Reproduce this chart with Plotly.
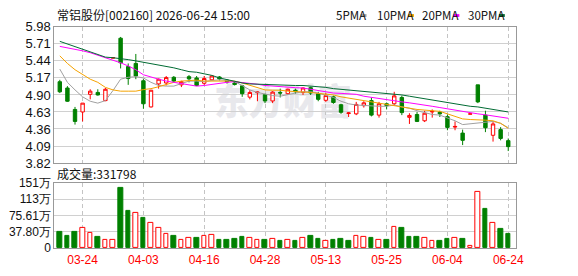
import base64
import plotly.graph_objects as go

# ---------------- data ----------------
opens = [5.11, 5.01, 4.67, 4.63, 4.91, 4.94, 4.81, 5.485, 5.80, 5.35,
         5.40, 5.125, 4.71, 5.075, 5.09, 5.18, 5.06, 5.19, 5.17, 5.085,
         5.14, 5.185, 5.135, 5.09, 5.045, 4.865, 4.935, 4.905, 4.805, 4.94,
         4.92, 4.975, 4.94, 5.015, 4.92, 4.815, 4.87, 4.745, 4.605, 4.60,
         4.73, 4.81, 4.58, 4.76, 4.76, 4.86, 4.545, 4.59, 4.49, 4.63,
         4.625, 4.555, 4.39, 4.295, 4.595, 5.06, 4.58, 4.26, 4.35, 4.175]
highs = [5.14, 5.04, 4.71, 4.77, 4.99, 4.99, 5.01, 5.49, 5.82, 5.40,
         5.55, 5.15, 4.98, 5.16, 5.20, 5.20, 5.125, 5.215, 5.20, 5.20,
         5.21, 5.20, 5.15, 5.11, 5.06, 4.975, 4.955, 4.92, 4.96, 5.00,
         5.00, 5.00, 5.02, 5.03, 4.95, 4.93, 4.89, 4.76, 4.625, 4.79,
         4.80, 4.86, 4.79, 4.78, 4.95, 4.89, 4.61, 4.63, 4.65, 4.67,
         4.65, 4.59, 4.48, 4.35, 4.60, 5.06, 4.65, 4.47, 4.39, 4.21]
lows = [4.93, 4.79, 4.43, 4.48, 4.83, 4.89, 4.80, 5.485, 5.32, 5.06,
        5.15, 4.68, 4.70, 5.00, 5.05, 5.10, 5.025, 5.10, 5.04, 5.06,
        5.13, 5.13, 5.08, 5.05, 4.87, 4.83, 4.80, 4.77, 4.77, 4.86,
        4.90, 4.92, 4.90, 4.90, 4.80, 4.79, 4.76, 4.60, 4.55, 4.58,
        4.70, 4.56, 4.54, 4.67, 4.73, 4.58, 4.44, 4.47, 4.47, 4.54,
        4.55, 4.34, 4.34, 4.105, 4.595, 4.77, 4.31, 4.16, 4.18, 4.01]
closes = [4.95, 4.80, 4.48, 4.77, 4.96, 4.90, 4.99, 5.49, 5.41, 5.16,
          5.20, 4.76, 4.975, 5.15, 5.175, 5.12, 5.11, 5.155, 5.05, 5.16,
          5.20, 5.155, 5.105, 5.065, 4.92, 4.94, 4.945, 4.805, 4.945, 4.93,
          4.99, 4.95, 5.01, 4.93, 4.83, 4.89, 4.78, 4.625, 4.615, 4.75,
          4.775, 4.58, 4.76, 4.73, 4.885, 4.62, 4.575, 4.48, 4.61, 4.64,
          4.60, 4.385, 4.40, 4.18, 4.60, 4.79, 4.38, 4.44, 4.21, 4.08]
volumes = [37.9, 29.1, 37.9, 45.9, 35.0, 27.0, 19.7, 19.7, 140.5, 87.4,
           80.8, 70.6, 59.0, 45.9, 32.8, 29.1, 19.7, 24.0, 24.0, 27.7,
           30.6, 19.7, 19.7, 21.9, 25.5, 23.3, 19.7, 19.7, 21.1, 16.0,
           19.7, 17.5, 23.3, 28.4, 21.9, 16.8, 19.7, 21.9, 16.0, 27.7,
           25.5, 23.3, 19.7, 18.2, 50.3, 45.9, 27.0, 27.0, 24.0, 17.5,
           16.8, 21.9, 24.0, 21.9, 4.4, 131.1, 90.3, 59.0, 43.7, 33.18]
vol_up = [0, 0, 0, 1, 1, 0, 1, 1, 0, 0,
          1, 0, 1, 1, 1, 0, 1, 1, 0, 1,
          1, 0, 0, 0, 0, 1, 1, 0, 1, 0,
          1, 0, 1, 0, 0, 1, 0, 0, 0, 1,
          1, 0, 1, 0, 1, 0, 0, 0, 1, 1,
          0, 0, 1, 0, 1, 1, 0, 1, 0, 0]
ma5 = [5.31, 5.10, 4.98, 4.87, 4.80, 4.77, 4.81, 4.97, 5.15, 5.18,
       5.19, 5.17, 5.10, 5.05, 5.04, 5.04, 5.08, 5.12, 5.12, 5.11,
       5.13, 5.14, 5.13, 5.11, 5.05, 4.98, 4.94, 4.91, 4.89, 4.88,
       4.91, 4.93, 4.95, 4.95, 4.93, 4.90, 4.86, 4.80, 4.76, 4.74,
       4.73, 4.72, 4.72, 4.72, 4.74, 4.71, 4.69, 4.65, 4.62, 4.59,
       4.58, 4.54, 4.49, 4.43, 4.44, 4.46, 4.465, 4.48, 4.45, 4.38]
ma10 = [5.52, 5.40, 5.30, 5.22, 5.15, 5.10, 5.02, 4.98, 4.96, 4.96,
        4.96, 4.985, 5.00, 5.03, 5.07, 5.10, 5.12, 5.13, 5.135, 5.12,
        5.12, 5.125, 5.125, 5.12, 5.09, 5.05, 5.01, 4.98, 4.975, 4.975,
        4.96, 4.955, 4.95, 4.94, 4.925, 4.91, 4.90, 4.87, 4.85, 4.82,
        4.80, 4.79, 4.76, 4.74, 4.73, 4.71, 4.69, 4.67, 4.66, 4.65,
        4.64, 4.60, 4.56, 4.52, 4.51, 4.51, 4.50, 4.49, 4.45, 4.37]
ma20 = [5.67, 5.65, 5.63, 5.60, 5.57, 5.53, 5.50, 5.46, 5.41, 5.36,
        5.30, 5.22, 5.18, 5.15, 5.12, 5.10, 5.075, 5.05, 5.04, 5.05,
        5.07, 5.09, 5.10, 5.11, 5.10, 5.09, 5.07, 5.05, 5.04, 5.025,
        5.02, 5.015, 5.01, 4.99, 4.96, 4.95, 4.93, 4.925, 4.92, 4.91,
        4.88, 4.86, 4.85, 4.83, 4.81, 4.79, 4.775, 4.76, 4.74, 4.72,
        4.70, 4.68, 4.66, 4.63, 4.61, 4.60, 4.585, 4.57, 4.55, 4.53]
ma30 = [5.75, 5.71, 5.67, 5.62, 5.58, 5.54, 5.50, 5.49, 5.48, 5.46,
        5.44, 5.42, 5.40, 5.37, 5.35, 5.33, 5.30, 5.27, 5.26, 5.24,
        5.21, 5.17, 5.14, 5.11, 5.09, 5.075, 5.07, 5.06, 5.055, 5.05,
        5.05, 5.05, 5.05, 5.04, 5.035, 5.02, 5.00, 4.99, 4.975, 4.96,
        4.955, 4.95, 4.94, 4.925, 4.91, 4.90, 4.88, 4.86, 4.84, 4.81,
        4.80, 4.78, 4.76, 4.73, 4.72, 4.71, 4.69, 4.67, 4.65, 4.63]

date_tick_pos = [3, 11, 19, 27, 35, 43, 51, 59]
date_tick_text = ["03-24", "04-03", "04-16", "04-28", "05-13", "05-25", "06-04", "06-24"]
price_ticks = [5.98, 5.71, 5.44, 5.17, 4.90, 4.63, 4.36, 4.09, 3.82]
vol_ticks = [0, 37.80, 75.61, 113.41, 151.22]
vol_tick_text = ["0", "37.80万", "75.61万", "113万", "151万"]
ma_names = ["5PMA", "10PMA", "20PMA", "30PMA"]
title_text = "常铝股份[002160] 2026-06-24 15:00"
vol_title = "成交量:331798"

# ---------------- styling ----------------
W, H = 578, 276
RED, GREEN = "#ff0000", "#008000"
MA_COLORS = ["#a0a0a0", "#f5a300", "#ff00ff", "#006b33"]
FRAME = "#999999"
GRID = "#d0d0d0"


def px_x(x):
    return x / W


def px_y(y):
    return 1 - y / H


idx = list(range(len(closes)))

fig = go.Figure()

# watermark below traces
svg = ('<svg xmlns="http://www.w3.org/2000/svg" width="180" height="50">'
       '<text x="2" y="40" font-family="Noto Sans CJK SC" font-weight="900" '
       'font-size="38" fill="#e8e8ec">东方财富</text></svg>')
src = "data:image/svg+xml;base64," + base64.b64encode(svg.encode("utf-8")).decode()
fig.add_layout_image(dict(source=src, xref="paper", yref="paper",
                          x=px_x(215), y=px_y(74), sizex=px_x(165), sizey=50 / H,
                          xanchor="left", yanchor="top", sizing="stretch",
                          layer="below", opacity=1))

fig.add_trace(go.Candlestick(
    x=idx, open=opens, high=highs, low=lows, close=closes,
    xaxis="x", yaxis="y", whiskerwidth=0,
    increasing=dict(line=dict(color=RED, width=1), fillcolor="#ffffff"),
    decreasing=dict(line=dict(color=GREEN, width=1), fillcolor=GREEN),
    hoverinfo="skip", showlegend=False))

for vals, col in zip([ma5, ma10, ma20, ma30], MA_COLORS):
    fig.add_trace(go.Scatter(x=idx, y=vals, mode="lines", xaxis="x", yaxis="y",
                             line=dict(color=col, width=1), hoverinfo="skip",
                             showlegend=False))

fig.add_trace(go.Bar(
    x=idx, y=volumes, xaxis="x2", yaxis="y2", width=0.62,
    marker=dict(color=["#ffffff" if u else GREEN for u in vol_up],
                line=dict(color=[RED if u else GREEN for u in vol_up], width=1)),
    hoverinfo="skip", showlegend=False))

xdom = [px_x(55), px_x(522.7)]
xcommon = dict(domain=xdom, range=[-0.72, 60.07], tickmode="array",
               tickvals=date_tick_pos, ticktext=date_tick_text,
               showgrid=True, gridcolor="#c4c4c4", griddash="4px,3px", gridwidth=1,
               showline=True, mirror=True, linecolor=FRAME, linewidth=1,
               zeroline=False, ticks="", fixedrange=True)
fig.update_layout(
    width=W, height=H, margin=dict(l=0, r=0, t=0, b=0),
    paper_bgcolor="#ffffff", plot_bgcolor="rgba(0,0,0,0)",
    showlegend=False, bargap=0, boxgap=0.36,
    xaxis=dict(**xcommon, anchor="y", showticklabels=False,
               rangeslider=dict(visible=False)),
    xaxis2=dict(**xcommon, anchor="y2", matches="x", showticklabels=True,
                tickfont=dict(family="Arial", size=12, color=RED)),
    yaxis=dict(domain=[px_y(165), px_y(21)], range=[3.82, 5.98], anchor="x",
               tickmode="array", tickvals=price_ticks,
               ticktext=["%.2f" % v for v in price_ticks],
               tickfont=dict(family="Arial", size=13, color="#111111"),
               showgrid=True, gridcolor=GRID, gridwidth=1,
               showline=True, mirror=True, linecolor=FRAME, linewidth=1,
               zeroline=False, ticks="", fixedrange=True),
    yaxis2=dict(domain=[px_y(255), px_y(186)], range=[0, 151.22], anchor="x2",
                tickmode="array", tickvals=vol_ticks, ticktext=vol_tick_text,
                tickfont=dict(family="Arial", size=12, color="#111111"),
                showgrid=True, gridcolor=GRID, gridwidth=1,
                showline=True, mirror=True, linecolor=FRAME, linewidth=1,
                zeroline=False, ticks="", fixedrange=True),
)

anns = [
    dict(text=title_text, x=px_x(56), y=px_y(8), xanchor="left", yanchor="middle",
         font=dict(family="Noto Sans CJK SC", size=12, color="#111111")),
    dict(text=vol_title, x=px_x(56), y=px_y(176.5), xanchor="left", yanchor="middle",
         font=dict(family="Noto Sans CJK SC", size=12, color="#111111")),
]
legend_x = [338, 380, 425, 471.5]
swatch_x = [365, 413, 459, 505]
shapes = []
for name, lx, sx, col in zip(ma_names, legend_x, swatch_x, MA_COLORS):
    anns.append(dict(text=name, x=px_x(lx), y=px_y(8.5), xanchor="left", yanchor="middle",
                     font=dict(family="Noto Sans CJK SC", size=11.5, color="#111111")))
    shapes.append(dict(type="rect", xref="paper", yref="paper",
                       x0=px_x(sx), x1=px_x(sx + 6), y0=px_y(10.5), y1=px_y(7.5),
                       fillcolor=col, line=dict(width=0)))
for a in anns:
    a.update(xref="paper", yref="paper", showarrow=False)
fig.update_layout(annotations=anns, shapes=shapes)

fig.write_html("out.html")
